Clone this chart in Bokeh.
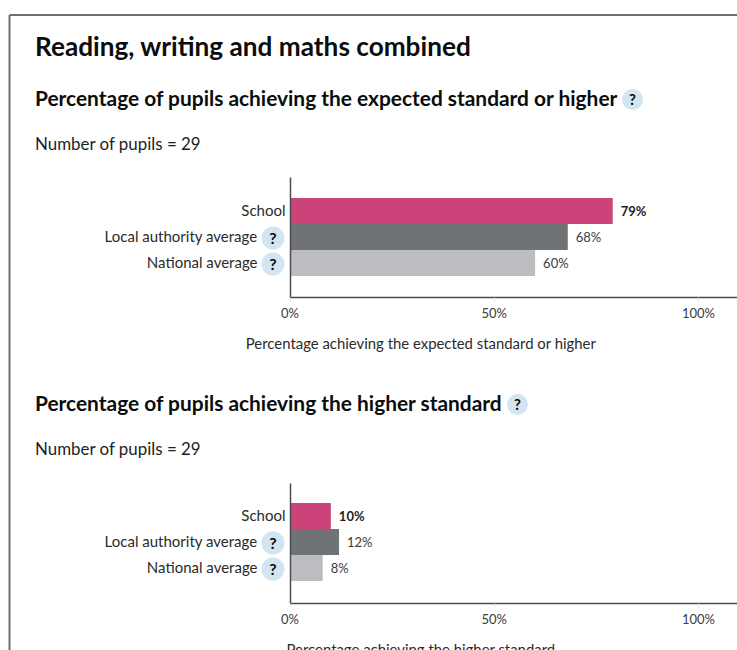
from bokeh.core.properties import value
from bokeh.embed import file_html
from bokeh.models import FixedTicker, LinearAxis, Range1d
from bokeh.plotting import figure
from bokeh.resources import INLINE

WIDTH, HEIGHT = 737, 650
ZERO_PX, PX_PER_PCT = 289.5, 4.085
FONT = "Lato"

categories = ["School", "Local authority average", "National average"]
expected_values = [79, 68, 60]
higher_values = [10, 12, 8]
bar_colors = ["#cc437a", "#6f7376", "#bdbdc1"]
tick_values = [0, 50, 100]
tick_labels = {0: "0%", 50: "50%", 100: "100%"}


def x_at(px):
    """Horizontal page pixel expressed in percentage units."""
    return (px - ZERO_PX) / PX_PER_PCT


p = figure(
    width=WIDTH, height=HEIGHT, output_backend="svg", toolbar_location=None,
    x_range=Range1d(x_at(0), x_at(WIDTH)), y_range=Range1d(HEIGHT + 0.5, 0.5),
    min_border=0, min_border_left=0, min_border_right=0, min_border_top=0,
    min_border_bottom=0, outline_line_color=None, x_axis_type=None, y_axis_type=None,
)
p.grid.visible = False


def put_text(px, y, text, size, weight="normal", align="left", color="#0b0c0c"):
    p.text(
        [x_at(px)], [y - 1.5], text=[text], text_font=value(FONT),
        text_font_size=f"{size}px", text_font_style=weight, text_align=align,
        text_baseline="middle", text_color=color,
    )


def help_badge(px, y, diameter, size):
    p.scatter([x_at(px)], [y], marker="circle", size=diameter, fill_color="#d2e5f0", line_color=None)
    put_text(px, y + 1, "?", size, "bold", "center")


# Panel edge
p.line([x_at(9), x_at(9)], [HEIGHT + 1, 15], line_color="#6f7072", line_width=2)
p.line([x_at(9), x_at(WIDTH)], [15, 15], line_color="#6f7072", line_width=2)

# Headings
put_text(34.5, 47.5, "Reading, writing and maths combined", 26.2, "bold")


def draw_chart(heading, badge_x, heading_y, count_y, top, axis_y, values, x_title, title_y):
    put_text(34.5, heading_y, heading, 20.9, "bold")
    help_badge(badge_x, heading_y + 1, 21, 15)
    put_text(34.5, count_y, "Number of pupils = 29", 16.9, color="#1d1e1f")

    # Bars run from the zero line, one 26px band per category
    band = 26
    rows = [top + band * (i + 0.5) for i in range(len(categories))]
    p.hbar(y=rows, left=0, right=values, height=band, fill_color=bar_colors, line_color=None)

    for i, (cat, val, row) in enumerate(zip(categories, values, rows)):
        label_right = 285 if i == 0 else 257
        put_text(label_right, row, cat, 15, align="right", color="#2a2b2c")
        if i > 0:
            help_badge(272.5, row + 1, 23, 16)
        put_text(
            ZERO_PX + 0.5 + val * PX_PER_PCT + 7.5, row + 1.5, f"{val}%", 13,
            "bold" if i == 0 else "normal", color="#1d1e1f" if i == 0 else "#3a3b3c",
        )

    # Axes sit at fixed places inside the page-wide frame
    y_axis = LinearAxis(
        fixed_location=0, bounds=(axis_y - 120, axis_y), ticker=FixedTicker(ticks=[]),
        axis_line_color="#4b4c4e", axis_line_width=1.5,
        major_label_text_font_size="0px",
    )
    p.add_layout(y_axis, "left")
    x_axis = LinearAxis(
        fixed_location=axis_y, bounds=(0, x_at(WIDTH)), ticker=FixedTicker(ticks=tick_values),
        major_label_overrides=tick_labels, axis_line_color="#4b4c4e", axis_line_width=1.5,
        major_tick_line_color="#e4e4e6", major_tick_in=0, major_tick_out=4,
        major_label_standoff=4, major_label_text_font=FONT,
        major_label_text_font_size="13px", major_label_text_color="#3a3b3c",
        major_label_text_font_style="normal",
    )
    p.add_layout(x_axis, "below")

    put_text(420.5, title_y, x_title, 14.9, align="center", color="#2a2b2c")


draw_chart("Percentage of pupils achieving the expected standard or higher", 632, 98.5, 145,
           198, 297, expected_values, "Percentage achieving the expected standard or higher", 344)
draw_chart("Percentage of pupils achieving the higher standard", 517, 403.5, 450,
           503, 603, higher_values, "Percentage achieving the higher standard", 650)

open("out.html", "w").write(file_html(p, INLINE))
